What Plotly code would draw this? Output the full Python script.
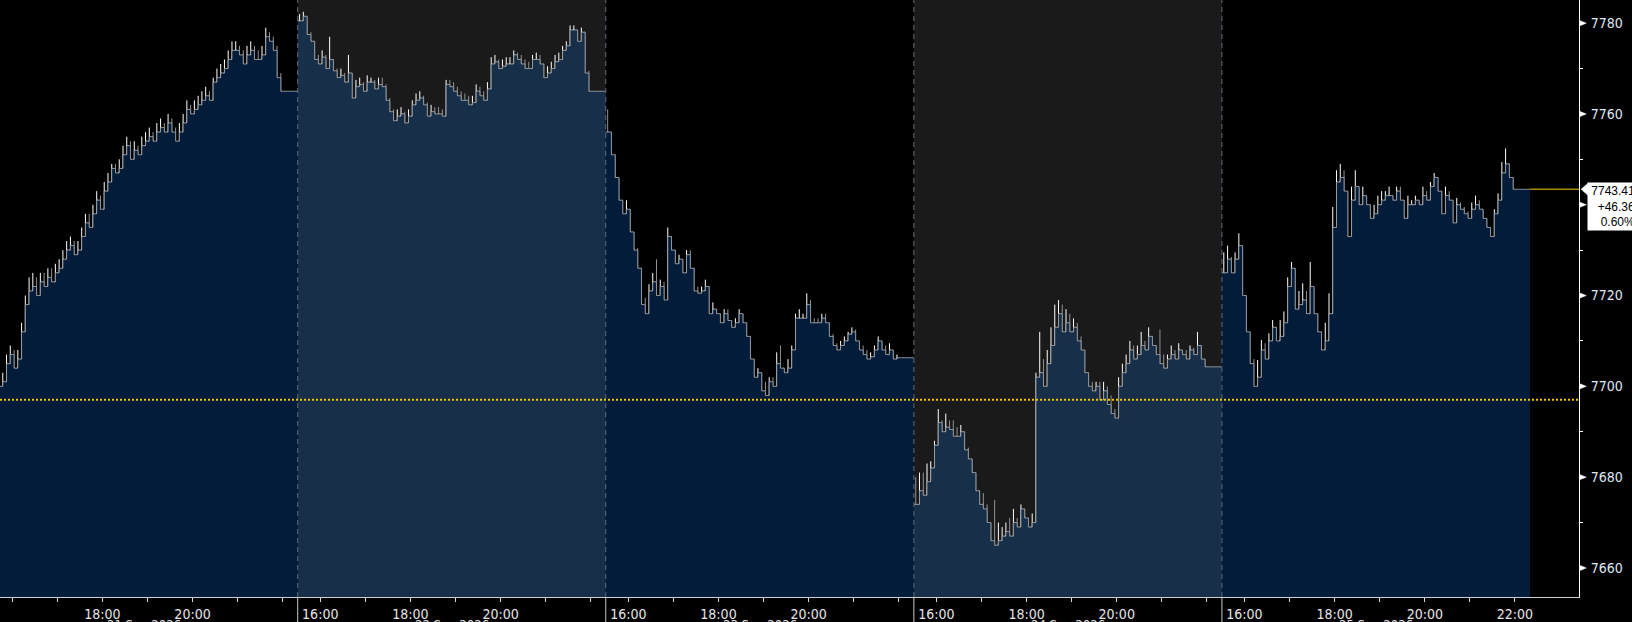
import plotly.graph_objects as go

# ---------------- data ----------------
session_dates = ["21 Sep 2026", "22 Sep 2026", "23 Sep 2026", "24 Sep 2026", "25 Sep 2026"]
hour_ticks = [16, 17, 18, 19, 20, 21, 22]
y_tick_vals = [7660, 7680, 7700, 7720, 7740, 7760, 7780]

close_d1 = [7698,7699,7700,7701,7705,7707,7704,7706,7712,7718, 7721,7722,7720,7723,7722,7724,7723,7725,7726,7728,
            7730,7731,7729,7730,7733,7736,7735,7738,7741,7739, 7743,7745,7748,7747,7748,7751,7753,7750,7752,7751,
            7753,7754,7755,7754,7756,7757,7756,7758,7756,7754, 7756,7758,7761,7760,7761,7762,7763,7764,7763,7767,
            7768,7769,7770,7772,7774,7774,7773,7771,7773,7774, 7772,7772,7773,7777,7776,7774,7768,7765]
high_d1 = [7700,7701,7702,7703,7707,7709,7708,7708,7714,7720, 7724,7725,7724,7725,7725,7726,7726,7727,7728,7730,
           7732,7733,7732,7732,7735,7738,7738,7740,7743,7742, 7745,7747,7749,7749,7750,7753,7755,7754,7754,7753,
           7755,7756,7757,7756,7758,7759,7758,7760,7759,7757, 7758,7760,7763,7762,7763,7764,7765,7766,7765,7768,
           7770,7771,7772,7774,7776,7776,7775,7774,7775,7776, 7775,7774,7775,7779,7778,7777,7775,7769]
low_d1 = [7696,7697,7698,7699,7700,7704,7702,7703,7705,7711, 7717,7719,7718,7719,7720,7721,7721,7722,7724,7725,
          7727,7729,7727,7728,7729,7732,7733,7734,7737,7737, 7738,7742,7744,7745,7746,7747,7750,7748,7749,7749,
          7750,7752,7753,7752,7753,7755,7754,7755,7753,7752, 7753,7755,7757,7758,7759,7760,7761,7762,7761,7762,
          7766,7767,7768,7769,7771,7772,7771,7769,7770,7772, 7770,7770,7771,7772,7774,7772,7766,7763]

close_d2 = [7780.5,7781.5,7777.5,7776,7772,7771,7772.5,7770,7772,7769.5, 7768,7768.5,7767,7769,7763.5,7766,7766.5,7765,7767,7767,
            7765.5,7766.5,7766,7763,7760.5,7758.5,7759.5,7760,7758,7759.5, 7762,7763,7763.5,7762,7759.5,7760.5,7760,7760,7759.5,7766.5,
            7766,7765,7764,7763,7763,7762,7762.5,7765,7764,7763, 7765.5,7771,7771.5,7770,7770.5,7771,7771,7773,7772,7771,
            7770,7770,7772,7772,7771,7768,7769,7770,7771.5,7772, 7774,7775,7778.5,7778.5,7776,7778,7769,7765]
high_d2 = [7782,7782.5,7781,7778,7776,7773,7774,7773,7777,7772, 7770,7770,7769,7773,7769,7767.5,7768,7767,7768.5,7768,
           7767.5,7768,7768,7766.5,7763.5,7761,7761,7761.5,7760.5,7761, 7763,7764.5,7765,7764,7762.5,7762,7761.5,7761.5,7761,7767.5,
           7767.5,7767,7766,7765,7764.5,7764,7764,7766.5,7766,7765, 7767,7772.5,7773,7772,7772,7772.5,7772.5,7774,7773.5,7773,
           7772,7771.5,7773,7773.5,7773,7771,7770.5,7771.5,7773,7773.5, 7775,7776,7779.5,7779.5,7778.5,7779,7778,7769.5]
low_d2 = [7772,7779,7776,7774,7770.5,7769.5,7770,7768.5,7769.5,7768, 7766.5,7767,7765.5,7766,7763,7763,7765,7763.5,7764.5,7765,
          7764,7764.5,7765,7762,7759.5,7757,7757.5,7758.5,7756.5,7757.5, 7759,7761,7762,7760.5,7758.5,7759,7758.5,7758.5,7758,7759,
          7764.5,7763.5,7762.5,7762,7761.5,7761,7761,7762,7762.5,7761.5, 7762.5,7765,7769.5,7768.5,7769,7769.5,7769.5,7770.5,7770.5,7769.5,
          7768.5,7768,7769.5,7770.5,7769.5,7767,7767.5,7768.5,7769.5,7770.5, 7771.5,7773,7774.5,7776.5,7775,7775.5,7768,7764]

close_d3 = [7756,7751,7746,7741,7738,7739,7734,7730,7726,7718, 7716,7721,7723,7720,7722,7719,7733,7730,7727,7728,
            7725,7729,7726,7721,7720.5,7721,7722,7716,7717,7716, 7714,7716,7714.5,7713,7714,7716,7714,7711,7706,7702,
            7703,7699,7698,7701,7700,7705,7704,7703,7704,7708, 7715,7715,7715,7718,7714,7714,7714,7715,7714,7711,
            7709,7708,7709,7710,7711.5,7712,7710,7708,7707,7706, 7706.5,7708,7710,7708,7707,7708,7706,7706.3]
high_d3 = [7761,7754,7751,7743,7741,7741,7736,7734,7730.5,7722, 7719.5,7722.5,7725,7728,7723.5,7723,7735,7733,7729,7729,
           7727.5,7730,7730,7722.5,7722,7722,7723.5,7718.5,7718.5,7717, 7716,7717,7717,7714.5,7715,7717,7715,7714,7709,7704.5,
           7704,7701.5,7701,7702,7702,7707.5,7709,7704,7706,7709, 7716,7717,7716,7720.5,7719,7715,7715,7716,7716,7713,
           7711.5,7709.5,7710,7711,7712,7713,7712.5,7710,7709,7708, 7707.5,7709,7711,7710,7709,7709.5,7708,7707]
low_d3 = [7754,7749,7744,7740,7736.5,7737,7732,7728.5,7725,7714.5, 7714,7720,7720.5,7717.5,7720,7718,7718.5,7728,7726,7725,
          7723.5,7724.5,7721,7719,7719,7718.5,7718.5,7714,7714,7714, 7713,7714,7713,7711.5,7712,7713,7713,7709,7703,7700.5,
          7700,7697.5,7696,7698,7698,7702,7702,7702,7703,7702, 7708,7713,7713.5,7716,7712,7711,7713,7714,7713,7710,
          7708.5,7706.5,7707,7707.5,7709,7710,7708,7707,7706,7705, 7705,7706.5,7708,7706,7705,7696,7704,7705]

close_d4 = [7674,7677,7676,7679,7682,7687,7692,7690,7691,7690.5, 7689,7689,7690,7686,7684,7681,7677,7674,7673,7670,
            7666,7665,7666,7667,7668,7667,7670,7669,7673,7671, 7669,7670,7702,7703,7700,7705,7709,7713,7716,7712,
            7714,7712,7713,7710,7708,7703,7700,7699,7700,7697, 7699,7696,7694,7693,7700,7703,7705,7708,7706,7707,
            7709,7708,7711,7709,7707,7705,7704,7706,7707,7706, 7708,7707,7706,7708,7707,7709,7706,7704.3]
high_d4 = [7680,7681,7681,7683,7683.5,7688,7695,7692.5,7694,7692.5, 7692.5,7691,7691.5,7689,7686.5,7683,7679.5,7676.5,7676.5,7674,
           7670,7675,7670,7669,7670,7671,7673,7671,7674,7673, 7671,7672,7703,7712,7706,7708,7713,7718,7719,7718,
           7717,7716,7715,7714,7711,7707,7703,7701,7701,7701, 7701,7700,7698,7695,7702,7705,7707,7710,7709,7709,
           7712,7710,7713,7711,7709,7712.5,7707,7707,7709,7708, 7709.5,7708,7708,7709,7708.5,7712,7709,7706]
low_d4 = [7672,7675,7674,7677.5,7680,7684,7688,7688.5,7688,7689.5, 7687.5,7687,7688,7684.5,7682,7680,7675.5,7673.5,7670,7666,
          7662.5,7663,7664,7665,7666,7666,7667,7667,7669,7668, 7667,7668,7669,7694,7694,7700,7705,7709,7711,7708,
          7710,7708,7710,7708,7705,7700,7697.5,7697,7696,7695, 7696,7693,7691,7687,7692,7699,7702,7703,7703,7704,
          7705,7704,7706,7705,7704,7701.5,7703,7704,7705,7705, 7705,7705,7704.5,7705,7704.5,7706,7703.5,7703.5]

close_d5 = [7725,7728,7725,7728,7731,7720,7712,7705,7700,7702, 7708,7706,7710,7713,7710,7711,7714,7722,7726,7717,
            7718,7719,7716,7722,7716,7712,7708,7710,7716,7735, 7745,7746,7743,7733,7741,7744,7740,7742,7740,7737,
            7738,7740,7741,7742,7742,7741,7743,7741,7737,7740, 7740,7741,7740,7742,7741,7744,7746,7743,7738,7742,
            7741,7736,7740,7739,7738,7737,7739,7740,7739,7737, 7735,7733,7738,7741,7747,7749,7746,7743.41]
high_d5 = [7729.5,7731,7728.5,7729.5,7733.7,7729.3,7714,7709.5,7706,7705.8, 7710.2,7709.5,7711.7,7714.6,7713,7714.6,7716.5,7724,7727.4,7724,
           7721,7722.7,7721,7727.4,7722,7713,7712,7714,7720.5,7739.5, 7747.6,7749,7747.6,7741,7744,7747.6,7742,7744,7742,7740,
           7740,7742,7743,7743,7744,7742,7744,7744,7740,7742, 7741,7742,7741,7744,7743,7745,7747,7745,7741,7744,
           7743,7737.3,7741.5,7740.5,7739.5,7738.5,7740.5,7742,7741,7739, 7737,7734.5,7739,7742.5,7749.4,7752.4,7747.6,7745]
low_d5 = [7717.5,7724,7723.5,7726,7729,7714,7698.5,7700,7694.8,7695.5, 7701.4,7704,7706.4,7708,7707,7706,7709.5,7716,7723.4,7714,
          7714.5,7715,7715,7719,7714,7710.8,7705.8,7708,7710.8,7719.6, 7739.5,7742.6,7740.4,7730.7,7735,7739.5,7737,7738,7738.5,7734,
          7732.2,7737,7738,7740,7740.5,7740,7740.5,7739,7735.5,7738, 7739,7737,7739,7740,7740,7741.7,7743,7740.5,7735,7740.5,
          7737,7735,7738,7738,7736.5,7734.5,7737,7738,7737,7735, 7733,7732,7732.5,7739.5,7742.4,7745,7744,7742]

prev_close = 7697.05
last_price = 7743.41
net_change = "+46.36"
pct_change = "0.60%"

closes = [close_d1, close_d2, close_d3, close_d4, close_d5]
highs = [high_d1, high_d2, high_d3, high_d4, high_d5]
lows = [low_d1, low_d2, low_d3, low_d4, low_d5]

# ------------- time axis (compressed sessions 15:30-22:20, minutes) -------------
SESSION_MIN = 410      # 15:30 -> 22:20
BAR_MIN = 5
SESSION_START_H = 15.5
X_RANGE = [13.8, 2115.2]
Y_RANGE = [7653.6, 7785.1]

FILL_DARK = "#021c3a"
FILL_LIGHT = "#182f4a"
GREY_BG = "#1a1a1a"
NARROW = "Liberation Sans Narrow, DejaVu Sans Condensed, Liberation Sans"

fig = go.Figure()
shapes = []
annotations = []

ox, oo, oh, ol, oc = [], [], [], [], []
for k in range(5):
    base = k * SESSION_MIN
    cs, hs, ls = closes[k], highs[k], lows[k]
    xs = [base + BAR_MIN * i + BAR_MIN / 2 for i in range(len(cs))]
    opens = [cs[0]] + cs[:-1]
    for x, o, h, l, c in zip(xs, opens, hs, ls, cs):
        ox.append(x); oo.append(o); oc.append(c)
        oh.append(max(h, o, c)); ol.append(min(l, o, c))
    # area fill under the close
    fx = [base] + xs + [base + SESSION_MIN]
    fy = [cs[0]] + cs + [cs[-1]]
    fig.add_trace(go.Scatter(
        x=fx, y=fy, mode="lines", line=dict(color="rgba(150,155,160,0.9)", width=1, shape="hv"),
        fill="tozeroy", fillcolor=FILL_LIGHT if k % 2 == 1 else FILL_DARK,
        hoverinfo="skip", showlegend=False))
    if k % 2 == 1:
        shapes.append(dict(type="rect", xref="x", yref="paper", x0=base, x1=base + SESSION_MIN,
                           y0=0, y1=1, fillcolor=GREY_BG, line=dict(width=0), layer="below"))
    if k > 0:
        shapes.append(dict(type="line", xref="x", yref="paper", x0=base, x1=base, y0=0, y1=1,
                           line=dict(color="#5f6b78", width=1, dash="5px,4px"), layer="above"))
        shapes.append(dict(type="line", xref="x", yref="paper", x0=base, x1=base, y0=-0.06, y1=0,
                           line=dict(color="#c8c8c8", width=1), layer="above"))
    annotations.append(dict(x=base + SESSION_MIN / 2, xref="x", y=-0.0305, yref="paper",
                            yanchor="top", xanchor="center", showarrow=False, text=session_dates[k],
                            font=dict(family=NARROW, size=13, color="#e6e6e6")))

fig.add_trace(go.Ohlc(
    x=ox, open=oo, high=oh, low=ol, close=oc, tickwidth=0.3,
    increasing=dict(line=dict(color="#ffffff", width=1)),
    decreasing=dict(line=dict(color="#8e9298", width=1)),
    hoverinfo="skip", showlegend=False))

# x ticks: every hour, labels on even hours
tickvals, ticktext = [], []
for k in range(5):
    for h in hour_ticks:
        tickvals.append(k * SESSION_MIN + (h - SESSION_START_H) * 60)
        lab = f"{h}:00" if (h in (16, 18, 20) or (h == 22 and k == 4)) else ""
        if k == 0 and h == 16:
            lab = ""
        ticktext.append(lab)

# y tick labels (the one under the last-price box is covered in the original)
y_tick_text = ["" if v == 7740 else str(v) for v in y_tick_vals]

# previous close (yellow dotted) and last price line
shapes.append(dict(type="line", xref="paper", yref="y", x0=0, x1=1, y0=prev_close, y1=prev_close,
                   line=dict(color="#f0c800", width=2, dash="2px,2px"), layer="above"))
shapes.append(dict(type="line", xref="x", yref="y", x0=5 * SESSION_MIN, x1=X_RANGE[1],
                   y0=last_price, y1=last_price, line=dict(color="#a88c00", width=1.5), layer="above"))

# tick markers on the right axis
for v in y_tick_vals:
    shapes.append(dict(type="path", xref="paper", yref="y",
                       path=f"M 1.0003,{v + 0.6} L 1.0046,{v} L 1.0003,{v - 0.6} Z",
                       fillcolor="white", line=dict(color="white", width=0.5)))

# last price box with pointer
shapes.append(dict(type="path", xref="paper", yref="y",
                   path=f"M 1.0013,{last_price} L 1.0058,{last_price + 1.35} L 1.0058,{last_price - 1.35} Z",
                   fillcolor="white", line=dict(color="white", width=0.5)))
annotations.append(dict(x=1, xref="paper", xanchor="left", xshift=8, y=last_price, yref="y",
                        yanchor="top", yshift=7, showarrow=False, align="right",
                        text=f"{last_price:.2f}<br>{net_change}<br>{pct_change}",
                        bgcolor="white", borderpad=1, width=46,
                        font=dict(family="Liberation Sans", size=12, color="black")))

TICK_FONT = dict(family=NARROW, size=14)

fig.update_layout(
    width=1632, height=622,
    margin=dict(l=0, r=53, t=0, b=25),
    paper_bgcolor="black", plot_bgcolor="black",
    showlegend=False, hovermode=False,
    shapes=shapes, annotations=annotations,
    xaxis=dict(range=X_RANGE, rangeslider=dict(visible=False), showgrid=False, zeroline=False,
               tickmode="array", tickvals=tickvals, ticktext=ticktext,
               ticks="outside", ticklen=4, tickcolor="#d0d0d0", tickwidth=1,
               showline=True, linecolor="#d0d0d0", linewidth=1, automargin=False,
               tickfont=dict(color="#e6e6e6", **TICK_FONT)),
    yaxis=dict(range=Y_RANGE, side="right", showgrid=False, zeroline=False,
               tickmode="array", tickvals=y_tick_vals, ticktext=y_tick_text,
               ticks="outside", ticklen=8, tickcolor="black", tickwidth=1,
               minor=dict(dtick=10, tick0=7650, ticks="outside", ticklen=3, tickcolor="white"),
               showline=True, linecolor="white", linewidth=1, automargin=False,
               tickfont=dict(color="#dfe8f4", **TICK_FONT)),
)

fig.write_html("out.html", config={"displayModeBar": False},
               post_script="document.body.style.margin='0px';document.body.style.overflow='hidden';document.body.style.background='black';")
